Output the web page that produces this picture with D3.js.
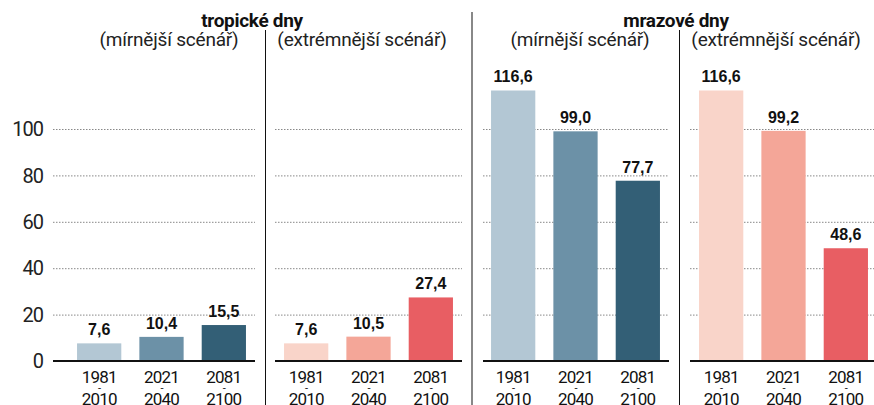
<!DOCTYPE html>
<html>
<head>
<meta charset="utf-8">
<script src="https://cdn.jsdelivr.net/npm/d3@7"></script>
<style>
  body { margin: 0; background: #fff; }
  svg { display: block; }
</style>
</head>
<body>
<script>
// Chart data
var periods = ["1981-2010", "2021-2040", "2081-2100"];
var tropMild = [7.6, 10.4, 15.5];
var tropExtreme = [7.6, 10.5, 27.4];
var frostMild = [116.6, 99.0, 77.7];
var frostExtreme = [116.6, 99.2, 48.6];
var yTicks = [0, 20, 40, 60, 80, 100];
var groupTitles = ["tropické dny", "mrazové dny"];
var scenarioLabels = ["(mírnější scénář)", "(extrémnější scénář)"];

var blues = ["#b3c7d4", "#6c91a7", "#335f76"];
var reds = ["#f9d4c9", "#f4a698", "#e85e63"];

var svgWidth = 874;
var svgHeight = 405;

var svg = d3.select("body")
  .append("svg")
  .attr("width", svgWidth)
  .attr("height", svgHeight);

// shared y scale
var yScale = d3.scaleLinear()
  .domain([0, 100])
  .range([361, 129]);

var fmt = function(v) { return d3.format(".1f")(v).replace(".", ","); };

// one panel per scenario
var panels = [
  { values: tropMild, colors: blues, x0: 68, x1: 255, gx0: 53, gx1: 255, subX: 169, sub: scenarioLabels[0] },
  { values: tropExtreme, colors: reds, x0: 275, x1: 462, gx0: 275, gx1: 462, subX: 362, sub: scenarioLabels[1] },
  { values: frostMild, colors: blues, x0: 482, x1: 669, gx0: 483, gx1: 669, subX: 580, sub: scenarioLabels[0] },
  { values: frostExtreme, colors: reds, x0: 690, x1: 877, gx0: 690, gx1: 874, subX: 776, sub: scenarioLabels[1] }
];

// y tick labels
svg.append("g")
  .selectAll("text")
  .data(yTicks)
  .enter()
  .append("text")
  .attr("x", 43)
  .attr("y", d => yScale(d))
  .attr("dy", "0.36em")
  .attr("text-anchor", "end")
  .attr("font-family", "Roboto, sans-serif")
  .attr("font-size", "20px")
  .attr("letter-spacing", "-1px")
  .attr("fill", "#222")
  .text(d => d);

panels.forEach(function(p) {
  var g = svg.append("g");

  var xBand = d3.scaleBand()
    .domain(periods)
    .range([p.x0, p.x1])
    .paddingInner(0.29)
    .paddingOuter(0.145);

  // dotted gridlines
  g.selectAll(".grid")
    .data(yTicks.filter(d => d > 0))
    .enter()
    .append("line")
    .attr("class", "grid")
    .attr("x1", p.gx0)
    .attr("x2", p.gx1)
    .attr("y1", d => yScale(d) + 0.5)
    .attr("y2", d => yScale(d) + 0.5)
    .attr("stroke", "#888")
    .attr("stroke-width", 1)
    .attr("stroke-dasharray", "1.5,1.5");

  // bars
  g.selectAll("rect")
    .data(p.values)
    .enter()
    .append("rect")
    .attr("x", (d, i) => xBand(periods[i]))
    .attr("y", d => yScale(d))
    .attr("width", xBand.bandwidth())
    .attr("height", d => yScale(0) - yScale(d))
    .attr("fill", (d, i) => p.colors[i]);

  // baseline
  g.append("line")
    .attr("x1", p.gx0)
    .attr("x2", p.gx1)
    .attr("y1", yScale(0))
    .attr("y2", yScale(0))
    .attr("stroke", "#111")
    .attr("stroke-width", 2);

  // value labels
  g.selectAll(".val")
    .data(p.values)
    .enter()
    .append("text")
    .attr("class", "val")
    .attr("x", (d, i) => xBand(periods[i]) + xBand.bandwidth() / 2)
    .attr("y", d => yScale(d) - 8)
    .attr("text-anchor", "middle")
    .attr("font-family", "'Liberation Sans Narrow', sans-serif")
    .attr("font-weight", "bold")
    .attr("font-size", "16px")
    .attr("fill", "#111")
    .text(d => fmt(d));

  // period labels on x axis
  var xl = g.selectAll(".period")
    .data(periods)
    .enter()
    .append("text")
    .attr("class", "period")
    .attr("text-anchor", "middle")
    .attr("font-family", "Roboto, sans-serif")
    .attr("font-size", "17px")
    .attr("letter-spacing", "-0.8px")
    .attr("fill", "#111");

  var cx = d => xBand(d) + xBand.bandwidth() / 2;
  xl.append("tspan").attr("x", cx).attr("y", 383).text(d => d.split("-")[0]);
  xl.append("tspan").attr("x", cx).attr("y", 392).attr("font-size", "11px").text("-");
  xl.append("tspan").attr("x", cx).attr("y", 405).text(d => d.split("-")[1]);

  // scenario subtitle
  svg.append("text")
    .attr("x", p.subX)
    .attr("y", 46)
    .attr("text-anchor", "middle")
    .attr("font-family", "Roboto, sans-serif")
    .attr("font-size", "19px")
    .attr("letter-spacing", "-0.2px")
    .attr("fill", "#222")
    .text(p.sub);
});

// group headers
svg.selectAll(".head")
  .data(groupTitles)
  .enter()
  .append("text")
  .attr("class", "head")
  .attr("x", (d, i) => i == 0 ? 252 : 676)
  .attr("y", 27)
  .attr("text-anchor", "middle")
  .attr("font-family", "Roboto, sans-serif")
  .attr("font-weight", "bold")
  .attr("font-size", "19px")
  .attr("letter-spacing", "-0.3px")
  .attr("fill", "#111")
  .text(d => d);

// dividers
svg.append("line")
  .attr("x1", 265.5).attr("x2", 265.5)
  .attr("y1", 30).attr("y2", 405)
  .attr("stroke", "#111").attr("stroke-width", 1);

svg.append("line")
  .attr("x1", 679.5).attr("x2", 679.5)
  .attr("y1", 30).attr("y2", 405)
  .attr("stroke", "#111").attr("stroke-width", 1);

svg.append("line")
  .attr("x1", 472).attr("x2", 472)
  .attr("y1", 12).attr("y2", 405)
  .attr("stroke", "#888").attr("stroke-width", 2);
</script>
</body>
</html>
